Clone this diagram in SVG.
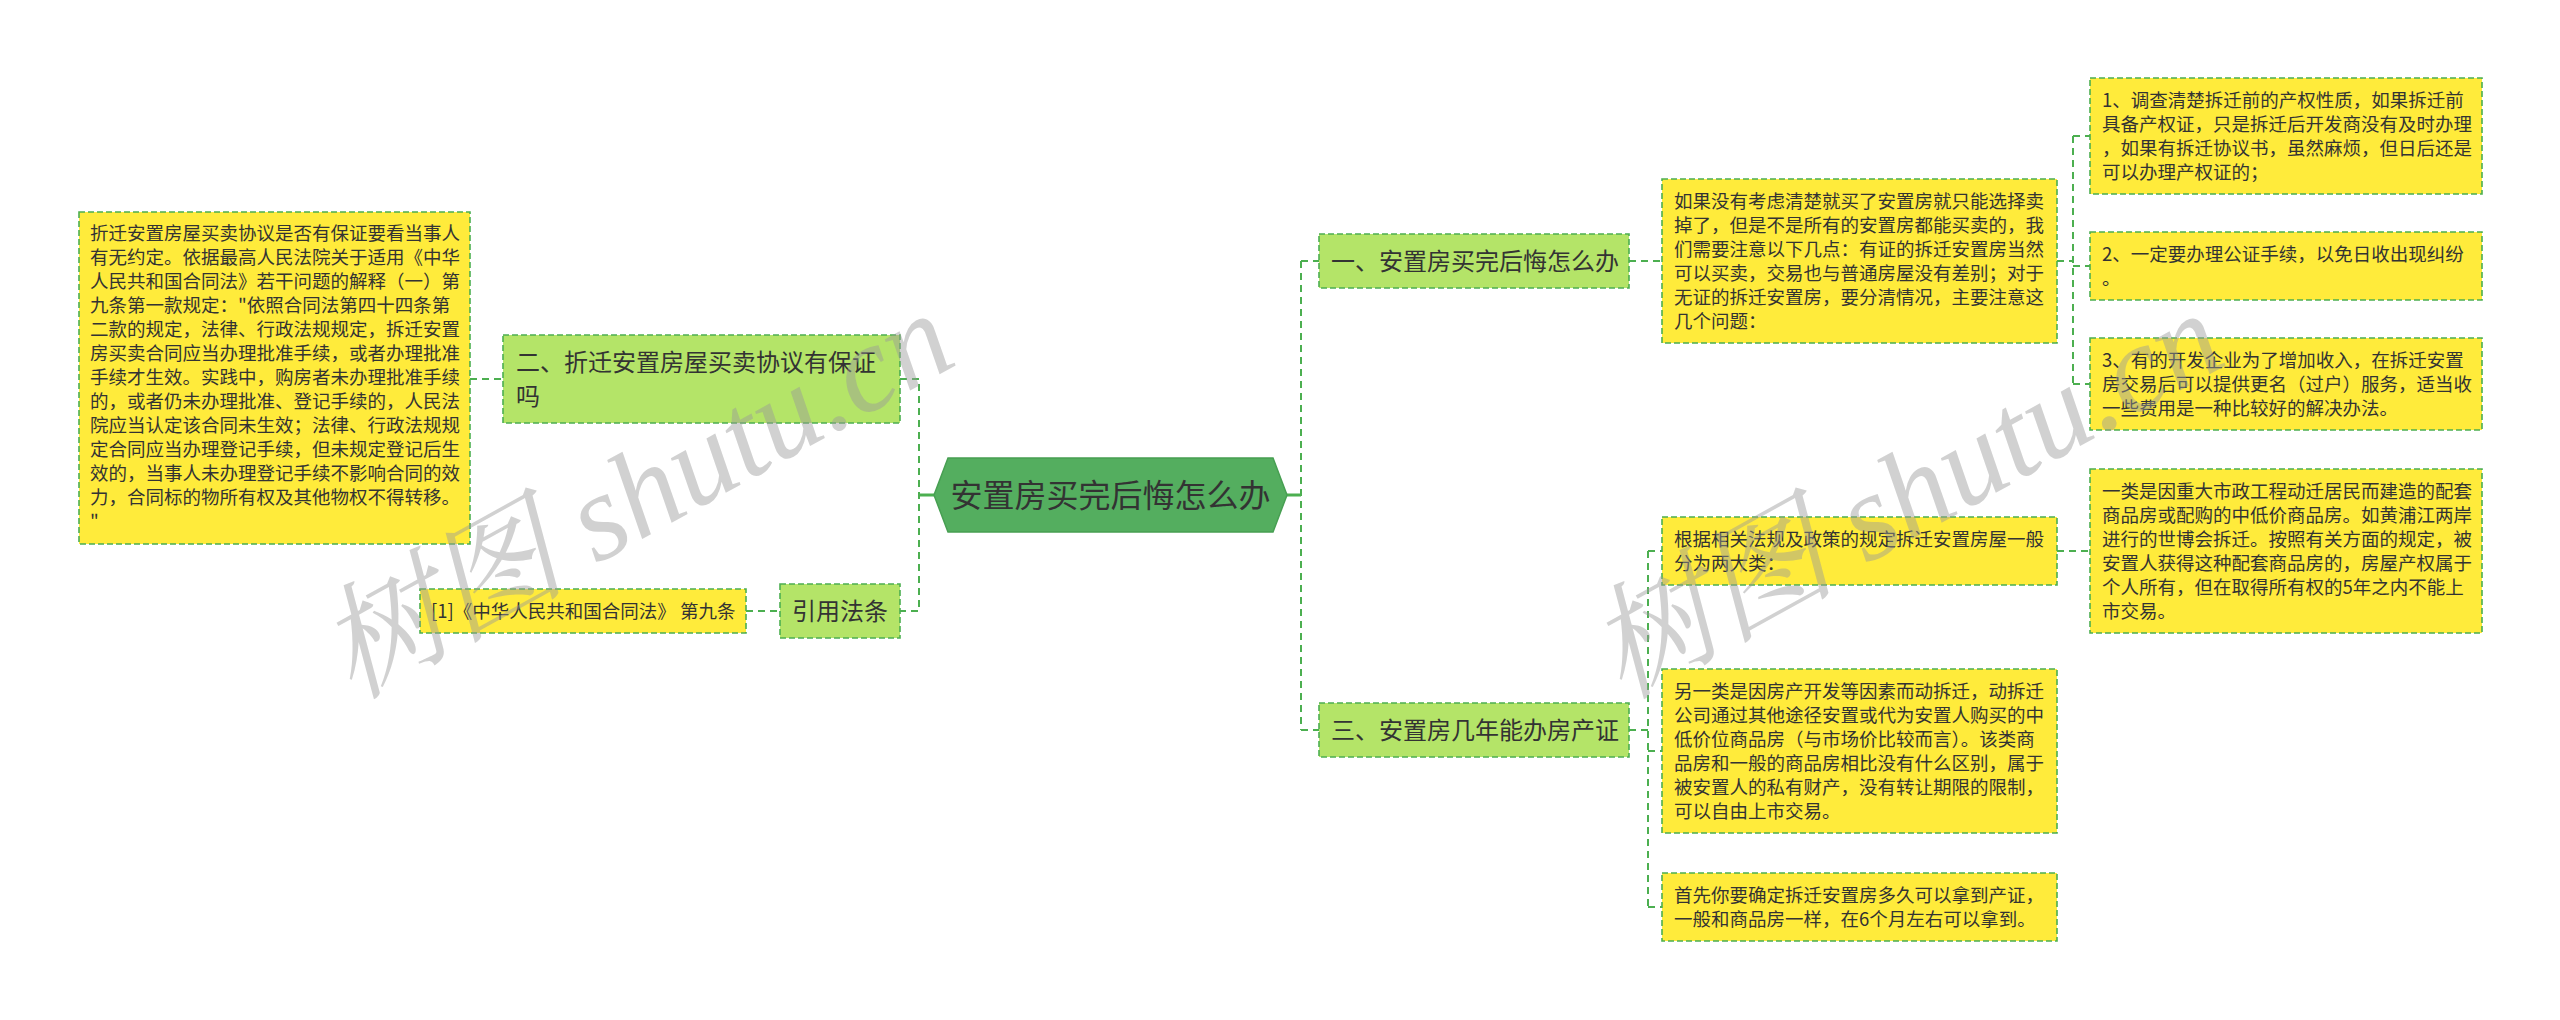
<svg xmlns="http://www.w3.org/2000/svg" width="2560" height="1020" viewBox="0 0 2560 1020">
<style>
.bg{fill:#ffffff}
.y{fill:#ffeb3b;stroke:#4caf50;stroke-width:1.6;stroke-dasharray:6 3}
.g{fill:#b4e468;stroke:#4caf50;stroke-width:1.6;stroke-dasharray:6 3}
.hex{fill:#54ae5f;stroke:#479f52;stroke-width:1.5}
.c{fill:none;stroke:#4caf50;stroke-width:2;stroke-dasharray:7 5}
.s{fill:none;stroke:#4caf50;stroke-width:3}
text{font-family:"Noto Sans CJK SC","Microsoft YaHei",sans-serif;fill:#333333}
.t{font-size:18.5px}
.m{font-size:24px}
.r{font-size:32px}
.wm{font-family:"Liberation Serif","Noto Serif CJK SC","Noto Sans CJK SC",serif;font-style:italic;font-size:124px;fill:#9a9a9a;fill-opacity:0.45}
</style>
<rect class="bg" x="0" y="0" width="2560" height="1020"/>
<g id="connectors">
<path class="s" d="M919 495 H934 M1287 495 H1301"/>
<path class="c" d="M470 379 H503 M900 379 H919 V611 H900 M746 611 H780"/>
<path class="c" d="M1301 261 V730 M1301 261 H1319 M1301 730 H1319"/>
<path class="c" d="M1629 261 H1662 M2057 261 H2073 M2073 136 V384 M2073 136 H2090 M2073 266 H2090 M2073 384 H2090"/>
<path class="c" d="M1629 730 H1648 M1648 551 V907 M1648 551 H1662 M1648 751 H1662 M1648 907 H1662 M2057 551 H2090"/>
</g>
<g id="root">
<polygon class="hex" points="934,495 948,458 1273,458 1287,495 1273,532 948,532"/>
<text class="r" x="1110.5" y="507" text-anchor="middle">安置房买完后悔怎么办</text>
</g>
<g id="n2">
<rect class="g" x="503" y="335" width="397" height="88"/>
<text class="m" x="516" y="371">二、折迁安置房屋买卖协议有保证</text>
<text class="m" x="516" y="405">吗</text>
</g>
<g id="n2a">
<rect class="y" x="79" y="212" width="391" height="332"/>
<text class="t" x="90" y="239.5">折迁安置房屋买卖协议是否有保证要看当事人</text>
<text class="t" x="90" y="263.5">有无约定。依据最高人民法院关于适用《中华</text>
<text class="t" x="90" y="287.5">人民共和国合同法》若干问题的解释（一）第</text>
<text class="t" x="90" y="311.5">九条第一款规定："依照合同法第四十四条第</text>
<text class="t" x="90" y="335.5">二款的规定，法律、行政法规规定，拆迁安置</text>
<text class="t" x="90" y="359.5">房买卖合同应当办理批准手续，或者办理批准</text>
<text class="t" x="90" y="383.5">手续才生效。实践中，购房者未办理批准手续</text>
<text class="t" x="90" y="407.5">的，或者仍未办理批准、登记手续的，人民法</text>
<text class="t" x="90" y="431.5">院应当认定该合同未生效；法律、行政法规规</text>
<text class="t" x="90" y="455.5">定合同应当办理登记手续，但未规定登记后生</text>
<text class="t" x="90" y="479.5">效的，当事人未办理登记手续不影响合同的效</text>
<text class="t" x="90" y="503.5">力，合同标的物所有权及其他物权不得转移。</text>
<text class="t" x="90" y="527.5">"</text>
</g>
<g id="n4">
<rect class="g" x="780" y="584" width="120" height="54"/>
<text class="m" x="792" y="620">引用法条</text>
</g>
<g id="n4a">
<rect class="y" x="420" y="589" width="326" height="44"/>
<text class="t" x="431" y="617.5">[1]《中华人民共和国合同法》 第九条</text>
</g>
<g id="n1">
<rect class="g" x="1319" y="234" width="310" height="54"/>
<text class="m" x="1331" y="270">一、安置房买完后悔怎么办</text>
</g>
<g id="n1a">
<rect class="y" x="1662" y="179" width="395" height="164"/>
<text class="t" x="1674" y="207.5">如果没有考虑清楚就买了安置房就只能选择卖</text>
<text class="t" x="1674" y="231.5">掉了，但是不是所有的安置房都能买卖的，我</text>
<text class="t" x="1674" y="255.5">们需要注意以下几点：有证的拆迁安置房当然</text>
<text class="t" x="1674" y="279.5">可以买卖，交易也与普通房屋没有差别；对于</text>
<text class="t" x="1674" y="303.5">无证的拆迁安置房，要分清情况，主要注意这</text>
<text class="t" x="1674" y="327.5">几个问题：</text>
</g>
<g id="n1a1">
<rect class="y" x="2090" y="78" width="392" height="116"/>
<text class="t" x="2102" y="106.5">1、调查清楚拆迁前的产权性质，如果拆迁前</text>
<text class="t" x="2102" y="130.5">具备产权证，只是拆迁后开发商没有及时办理</text>
<text class="t" x="2102" y="154.5">，如果有拆迁协议书，虽然麻烦，但日后还是</text>
<text class="t" x="2102" y="178.5">可以办理产权证的；</text>
</g>
<g id="n1a2">
<rect class="y" x="2090" y="232" width="392" height="68"/>
<text class="t" x="2102" y="260.5">2、一定要办理公证手续，以免日收出现纠纷</text>
<text class="t" x="2102" y="284.5">。</text>
</g>
<g id="n1a3">
<rect class="y" x="2090" y="338" width="392" height="92"/>
<text class="t" x="2102" y="366.5">3、有的开发企业为了增加收入，在拆迁安置</text>
<text class="t" x="2102" y="390.5">房交易后可以提供更名（过户）服务，适当收</text>
<text class="t" x="2102" y="414.5">一些费用是一种比较好的解决办法。</text>
</g>
<g id="n3">
<rect class="g" x="1319" y="703" width="310" height="54"/>
<text class="m" x="1331" y="739">三、安置房几年能办房产证</text>
</g>
<g id="n3a">
<rect class="y" x="1662" y="517" width="395" height="68"/>
<text class="t" x="1674" y="545.5">根据相关法规及政策的规定拆迁安置房屋一般</text>
<text class="t" x="1674" y="569.5">分为两大类：</text>
</g>
<g id="n3a1">
<rect class="y" x="2090" y="469" width="392" height="164"/>
<text class="t" x="2102" y="497.5">一类是因重大市政工程动迁居民而建造的配套</text>
<text class="t" x="2102" y="521.5">商品房或配购的中低价商品房。如黄浦江两岸</text>
<text class="t" x="2102" y="545.5">进行的世博会拆迁。按照有关方面的规定，被</text>
<text class="t" x="2102" y="569.5">安置人获得这种配套商品房的，房屋产权属于</text>
<text class="t" x="2102" y="593.5">个人所有，但在取得所有权的5年之内不能上</text>
<text class="t" x="2102" y="617.5">市交易。</text>
</g>
<g id="n3b">
<rect class="y" x="1662" y="669" width="395" height="164"/>
<text class="t" x="1674" y="697.5">另一类是因房产开发等因素而动拆迁，动拆迁</text>
<text class="t" x="1674" y="721.5">公司通过其他途径安置或代为安置人购买的中</text>
<text class="t" x="1674" y="745.5">低价位商品房（与市场价比较而言）。该类商</text>
<text class="t" x="1674" y="769.5">品房和一般的商品房相比没有什么区别，属于</text>
<text class="t" x="1674" y="793.5">被安置人的私有财产，没有转让期限的限制，</text>
<text class="t" x="1674" y="817.5">可以自由上市交易。</text>
</g>
<g id="n3c">
<rect class="y" x="1662" y="873" width="395" height="68"/>
<text class="t" x="1674" y="901.5">首先你要确定拆迁安置房多久可以拿到产证，</text>
<text class="t" x="1674" y="925.5">一般和商品房一样，在6个月左右可以拿到。</text>
</g>
<g id="watermark">
<text class="wm" x="352" y="700" transform="rotate(-29 352 700)">树图 shutu.cn</text>
<text class="wm" x="1622" y="700" transform="rotate(-29 1622 700)">树图 shutu.cn</text>
</g>
</svg>
